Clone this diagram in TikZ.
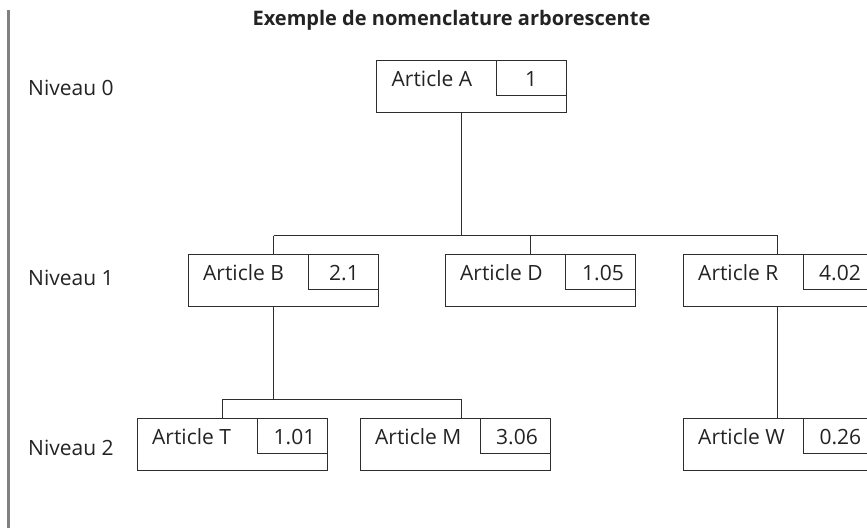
\documentclass[tikz,border=0pt]{standalone}
\usepackage{fontspec}
\setmainfont{Open Sans}
\definecolor{ink}{RGB}{35,35,35}
\definecolor{linec}{RGB}{45,45,45}
\definecolor{barc}{RGB}{128,128,128}
\begin{document}
\begin{tikzpicture}[x=1pt,y=-1pt,
  outerbox/.style={draw=linec,line width=1.2pt,minimum width=190pt,minimum height=52.7pt,inner sep=0pt,anchor=north west},
  numbox/.style={draw=linec,line width=1.2pt,minimum width=70pt,minimum height=35.5pt,inner sep=0pt,anchor=north east},
  lbl/.style={text=ink,inner sep=0pt,font=\fontsize{21}{25}\selectfont},
  conn/.style={draw=linec,line width=1.2pt}]
\useasboundingbox (0,0) rectangle (867,528);
\clip (0,0) rectangle (867,528);
\fill[barc] (7.3,10) rectangle (10,528);
\node[lbl,anchor=base,font=\fontsize{20}{24}\selectfont\bfseries] (title) at (451.5,25) {Exemple de nomenclature arborescente};
\node[lbl,anchor=base west] (n0) at (28,95) {Niveau 0};
\node[lbl,anchor=base west] (n1) at (28,285.7) {Niveau 1};
\node[lbl,anchor=base west] (n2) at (28,455.7) {Niveau 2};
% boxes
\foreach \id/\x/\y/\name/\num/\nx in {A/376/59.5/A/1/531, B/187.5/253.5/B/2.1/344, D/444.5/253.5/D/1.05/603, R/682.5/253.5/R/4.02/840, T/136.5/417.5/T/1.01/294.5, M/359.5/417.5/M/3.06/517, W/682.5/417.5/W/0.26/840.3}{
  \node[outerbox] (\id) at (\x,\y) {};
  \node[numbox] (\id n) at (\id.north east) {};
  \node[lbl,anchor=base west] (\id t) at ([xshift=15.5pt,yshift=-26.5pt]\id.north west) {Article \name};
  \node[lbl,anchor=base] (\id v) at (\nx,\y+26.5) {\num};
}
% connectors
\coordinate (jA) at (461.5,235.5);
\coordinate (jB) at (273.5,235.5);
\coordinate (jD) at (530.5,235.5);
\coordinate (jR) at (777.5,235.5);
\coordinate (kB) at (273.5,399.5);
\coordinate (kT) at (222.5,399.5);
\coordinate (kM) at (461.5,399.5);
\draw[conn] (A.south -| jA) -- (jA);
\draw[conn] (jB) -- (jR);
\draw[conn] (jB) -- (jB |- B.north);
\draw[conn] (jD) -- (jD |- D.north);
\draw[conn] (jR) -- (jR |- R.north);
\draw[conn] (kB |- B.south) -- (kB);
\draw[conn] (kT |- T.north) -- (kT) -- (kM) -- (kM |- M.north);
\draw[conn] (R.south -| jR) -- (W.north -| jR);
\end{tikzpicture}
\end{document}
